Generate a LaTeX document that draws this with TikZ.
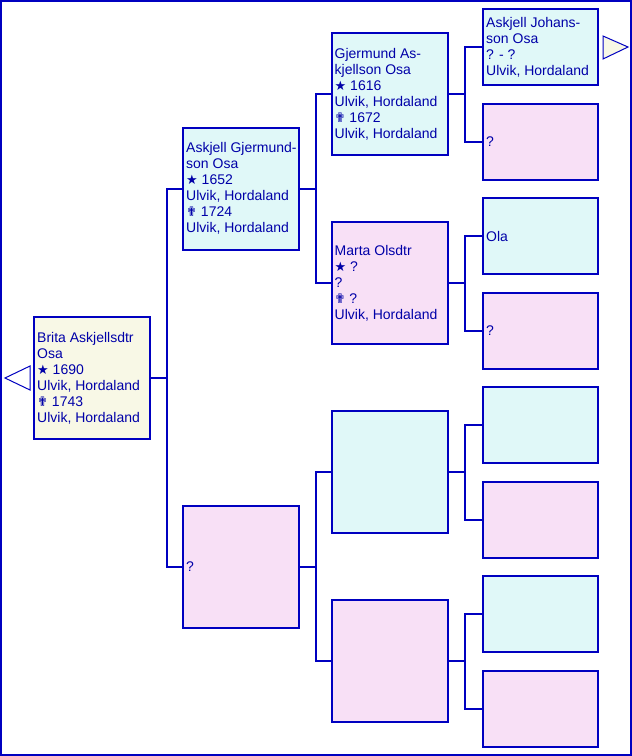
\documentclass[tikz,border=0pt]{standalone}
\usepackage{fontspec}
\setmainfont{Liberation Sans}
\newfontfamily\symfont{DejaVu Sans}
\definecolor{lineblue}{HTML}{0000C0}
\definecolor{txtblue}{HTML}{0000A8}
\definecolor{cream}{HTML}{F8F8E6}
\definecolor{cyanish}{HTML}{E0F8F8}
\definecolor{pinkish}{HTML}{F8E0F6}
\newcommand{\bstar}{{\symfont\fontsize{13}{16}\selectfont ★}}
\newcommand{\bcross}{{\symfont\fontsize{13}{16}\selectfont ✟}}
\begin{document}
\begin{tikzpicture}[x=1pt,y=-1pt,
  person/.style={draw=lineblue, line width=2pt, inner sep=0pt, minimum width=116pt, minimum height=122pt},
  small/.style={person, minimum width=115pt, minimum height=76pt},
  ptext/.style={anchor=west, inner sep=0pt, align=left, text=txtblue, font=\fontsize{14}{16}\selectfont},
  conn/.style={draw=lineblue, line width=2pt},
  tri/.style={draw=lineblue, line width=1pt}
]
\useasboundingbox (0,0) rectangle (632,756);
\draw[lineblue, line width=2pt] (1,1) rectangle (631,755);

% generation 1
\node[person, fill=cream] (b1) at (92,378) {};
% generation 2
\node[person, fill=cyanish] (g2a) at (241,188.5) {};
\node[person, fill=pinkish] (g2b) at (241,567) {};
% generation 3
\node[person, fill=cyanish] (g3a) at (389.5,94) {};
\node[person, fill=pinkish] (g3b) at (389.5,283) {};
\node[person, fill=cyanish] (g3c) at (389.5,472) {};
\node[person, fill=pinkish] (g3d) at (389.5,661) {};
% generation 4
\node[small, fill=cyanish] (g4a) at (540.5,47) {};
\node[small, fill=pinkish] (g4b) at (540.5,142) {};
\node[small, fill=cyanish] (g4c) at (540.5,236) {};
\node[small, fill=pinkish] (g4d) at (540.5,331) {};
\node[small, fill=cyanish] (g4e) at (540.5,425) {};
\node[small, fill=pinkish] (g4f) at (540.5,520) {};
\node[small, fill=cyanish] (g4g) at (540.5,614) {};
\node[small, fill=pinkish] (g4h) at (540.5,709) {};

% texts
\node[ptext] (t1) at ([xshift=4pt]b1.west) {Brita Askjellsdtr\\Osa\\\bstar\ 1690\\Ulvik, Hordaland\\\bcross\ 1743\\Ulvik, Hordaland};
\node[ptext] (t2a) at ([xshift=4pt]g2a.west) {Askjell Gjermund-\\son Osa\\\bstar\ 1652\\Ulvik, Hordaland\\\bcross\ 1724\\Ulvik, Hordaland};
\node[ptext] (t2b) at ([xshift=4pt]g2b.west) {?};
\node[ptext] (t3a) at ([xshift=4pt]g3a.west) {Gjermund As-\\kjellson Osa\\\bstar\ 1616\\Ulvik, Hordaland\\\bcross\ 1672\\Ulvik, Hordaland};
\node[ptext] (t3b) at ([xshift=4pt]g3b.west) {Marta Olsdtr\\\bstar\ ?\\?\\\bcross\ ?\\Ulvik, Hordaland};
\node[ptext] (t4a) at ([xshift=4pt]g4a.west) {Askjell Johans-\\son Osa\\? - ?\\Ulvik, Hordaland};
\node[ptext] (t4b) at ([xshift=4pt]g4b.west) {?};
\node[ptext] (t4c) at ([xshift=4pt]g4c.west) {Ola};
\node[ptext] (t4d) at ([xshift=4pt]g4d.west) {?};

% connectors
\draw[conn] (b1.east) -- ++(16,0);
\draw[conn] (g2a.west) -- ++(-15,0) |- (g2b.west);
\draw[conn] (g2a.east) -- ++(16,0);
\draw[conn] (g3a.west) -- ++(-15,0) |- (g3b.west);
\draw[conn] (g2b.east) -- ++(16,0);
\draw[conn] (g3c.west) -- ++(-15,0) |- (g3d.west);
\draw[conn] (g3a.east) -- ++(17,0);
\draw[conn] (g4a.west) -- ++(-17,0) |- (g4b.west);
\draw[conn] (g3b.east) -- ++(17,0);
\draw[conn] (g4c.west) -- ++(-17,0) |- (g4d.west);
\draw[conn] (g3c.east) -- ++(17,0);
\draw[conn] (g4e.west) -- ++(-17,0) |- (g4f.west);
\draw[conn] (g3d.east) -- ++(17,0);
\draw[conn] (g4g.west) -- ++(-17,0) |- (g4h.west);

% navigation arrows
\coordinate (la) at (5,378);
\coordinate (ra) at (628,47);
\draw[tri, fill=white] (la) -- (30,366) -- (30,390) -- cycle;
\draw[tri, fill=cream] (ra) -- (603,36) -- (603,59) -- cycle;
\end{tikzpicture}
\end{document}
